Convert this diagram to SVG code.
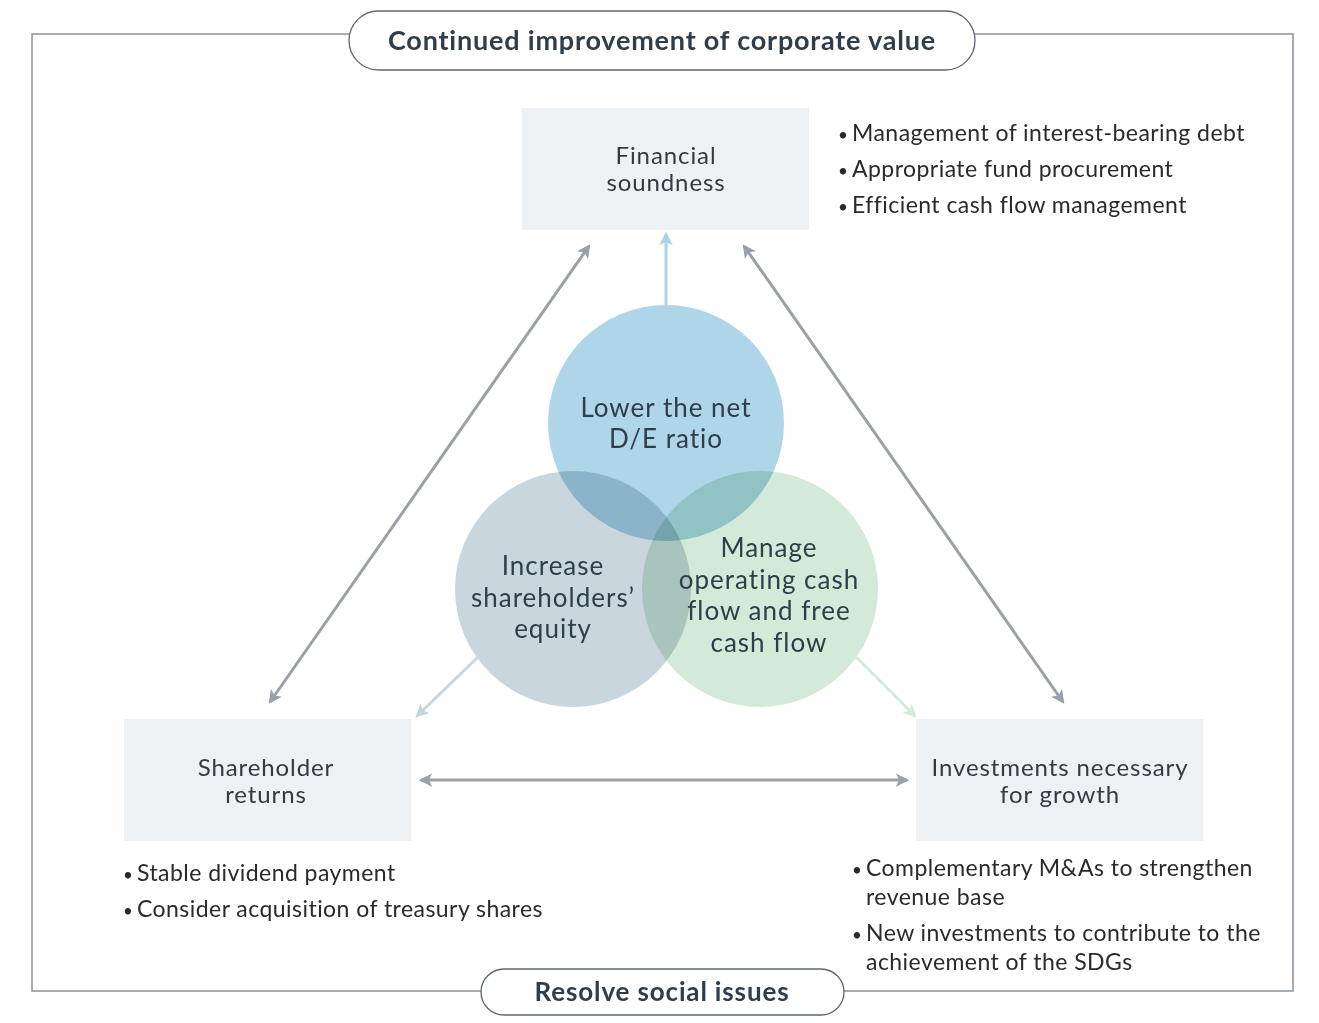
<svg xmlns="http://www.w3.org/2000/svg" width="1319" height="1023" viewBox="0 0 1319 1023">
<defs>
<style>
.frame{fill:none;stroke:#8a9299;stroke-width:1.5}
.pill{fill:#fff;stroke:#5d6670;stroke-width:1.3}
.title{font-family:Lato,"Liberation Sans",sans-serif;font-weight:bold;fill:#2f3e4a;text-anchor:middle}
.box{fill:#eef1f4}
.lbl{font-family:Lato,"Liberation Sans",sans-serif;font-size:24px;letter-spacing:0.9px;fill:#333a40;text-anchor:middle}
.clbl{font-family:Lato,"Liberation Sans",sans-serif;font-size:26px;letter-spacing:1px;fill:#2f3e4a;text-anchor:middle}
.bul{font-family:Lato,"Liberation Sans",sans-serif;font-size:23px;letter-spacing:0.45px;fill:#2a2a2a}
.dot{font-size:17px}
.circ{mix-blend-mode:multiply}
.gline{stroke:#9aa0a7;stroke-width:3;fill:none}
</style>
<marker id="ag" viewBox="0 0 12 12" refX="10" refY="6" markerWidth="4.5" markerHeight="4.5" orient="auto-start-reverse" markerUnits="strokeWidth"><path d="M0,0 L12,6 L0,12 L3,6 z" fill="#9aa0a7"/></marker>
<marker id="ab" viewBox="0 0 12 12" refX="10" refY="6" markerWidth="4.5" markerHeight="4.5" orient="auto" markerUnits="strokeWidth"><path d="M0,0 L12,6 L0,12 L3,6 z" fill="#a9d3e6"/></marker>
<marker id="as" viewBox="0 0 12 12" refX="10" refY="6" markerWidth="4.5" markerHeight="4.5" orient="auto" markerUnits="strokeWidth"><path d="M0,0 L12,6 L0,12 L3,6 z" fill="#c9d5dd"/></marker>
<marker id="agr" viewBox="0 0 12 12" refX="10" refY="6" markerWidth="4.5" markerHeight="4.5" orient="auto" markerUnits="strokeWidth"><path d="M0,0 L12,6 L0,12 L3,6 z" fill="#d4ead7"/></marker>
</defs>
<rect width="1319" height="1023" fill="#fff"/>
<rect class="frame" x="32" y="34" width="1261" height="957"/>

<g id="connectors">
<line x1="666" y1="306" x2="666" y2="234" stroke="#a9d3e6" stroke-width="3" marker-end="url(#ab)"/>
<line class="gline" x1="589" y1="246" x2="270" y2="702" marker-start="url(#ag)" marker-end="url(#ag)"/>
<line class="gline" x1="744" y1="246" x2="1063" y2="702" marker-start="url(#ag)" marker-end="url(#ag)"/>
<line class="gline" x1="421" y1="780" x2="907" y2="780" marker-start="url(#ag)" marker-end="url(#ag)"/>
<line x1="478" y1="657" x2="417" y2="716" stroke="#c9d5dd" stroke-width="3" marker-end="url(#as)"/>
<line x1="856" y1="657" x2="915" y2="716" stroke="#d4ead7" stroke-width="3" marker-end="url(#agr)"/>
</g>

<g id="top-pill">
<rect class="pill" x="349" y="11" width="626" height="59" rx="29.5"/>
<text class="title" x="662" y="50" font-size="27" letter-spacing="0.8">Continued improvement of corporate value</text>
</g>
<g id="bottom-pill">
<rect class="pill" x="481" y="969" width="363" height="46" rx="23"/>
<text class="title" x="662" y="1001" font-size="26" letter-spacing="0.85">Resolve social issues</text>
</g>

<g id="financial-soundness">
<rect class="box" x="522" y="108" width="287" height="122"/>
<text class="lbl" x="666" y="164">Financial</text>
<text class="lbl" x="666" y="191">soundness</text>
</g>
<g id="financial-bullets">
<text class="bul" y="141"><tspan class="dot" x="838">•</tspan><tspan x="852">Management of interest-bearing debt</tspan></text>
<text class="bul" y="177"><tspan class="dot" x="838">•</tspan><tspan x="852">Appropriate fund procurement</tspan></text>
<text class="bul" y="213"><tspan class="dot" x="838">•</tspan><tspan x="852">Efficient cash flow management</tspan></text>
</g>

<g id="shareholder-returns">
<rect class="box" x="124" y="719" width="287" height="122"/>
<text class="lbl" x="266" y="776">Shareholder</text>
<text class="lbl" x="266" y="803">returns</text>
</g>
<g id="shareholder-bullets">
<text class="bul" y="881"><tspan class="dot" x="123">•</tspan><tspan x="137">Stable dividend payment</tspan></text>
<text class="bul" y="917"><tspan class="dot" x="123">•</tspan><tspan x="137">Consider acquisition of treasury shares</tspan></text>
</g>

<g id="investments">
<rect class="box" x="916" y="719" width="287" height="122"/>
<text class="lbl" x="1060" y="776">Investments necessary</text>
<text class="lbl" x="1060" y="803">for growth</text>
</g>
<g id="investment-bullets">
<text class="bul" y="876"><tspan class="dot" x="852">•</tspan><tspan x="866">Complementary M&amp;As to strengthen</tspan></text>
<text class="bul" x="866" y="905">revenue base</text>
<text class="bul" y="941"><tspan class="dot" x="852">•</tspan><tspan x="866">New investments to contribute to the</tspan></text>
<text class="bul" x="866" y="970">achievement of the SDGs</text>
</g>

<g id="circles" style="isolation:isolate">
<circle class="circ" cx="666" cy="423" r="118" fill="#afd5e8"/>
<circle class="circ" cx="573" cy="589" r="118" fill="#cad6de"/>
<circle class="circ" cx="760" cy="589" r="118" fill="#d4ead8"/>
</g>
<g id="circle-de">
<text class="clbl" x="666" y="417">Lower the net</text>
<text class="clbl" x="666" y="448">D/E ratio</text>
</g>
<g id="circle-equity">
<text class="clbl" x="553" y="575">Increase</text>
<text class="clbl" x="553" y="607">shareholders’</text>
<text class="clbl" x="553" y="638">equity</text>
</g>
<g id="circle-cashflow">
<text class="clbl" x="769" y="557">Manage</text>
<text class="clbl" x="769" y="589">operating cash</text>
<text class="clbl" x="769" y="620">flow and free</text>
<text class="clbl" x="769" y="652">cash flow</text>
</g>
</svg>
